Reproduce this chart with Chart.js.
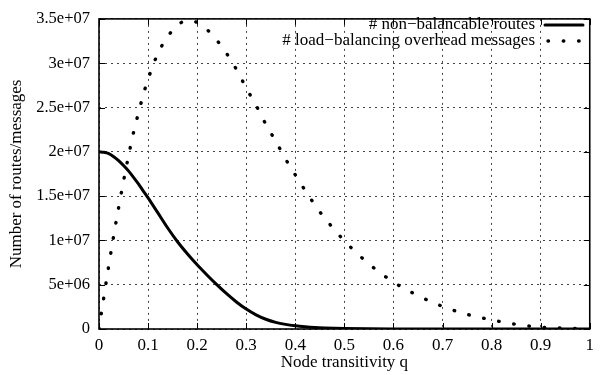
<!DOCTYPE html>
<html>
<head>
<meta charset="utf-8">
<script src="https://cdn.jsdelivr.net/npm/chart.js@4.4.0/dist/chart.umd.min.js"></script>
<style>
  body { margin: 0; background: #fff; }
  #wrap { width: 600px; height: 375px; position: relative; }
</style>
</head>
<body>
<div id="wrap"><canvas id="myChart"></canvas></div>
<script>
// node transitivity q (x values)
var qValues = [0, 0.01, 0.02, 0.03, 0.04, 0.05, 0.06, 0.07, 0.08, 0.09, 0.10,
  0.12, 0.14, 0.16, 0.18, 0.20, 0.22, 0.24, 0.26, 0.28, 0.30, 0.32, 0.34, 0.36,
  0.38, 0.40, 0.42, 0.44, 0.46, 0.48, 0.50, 0.55, 0.60, 0.65, 0.70, 0.75, 0.80,
  0.85, 0.90, 0.95, 1.00];

// # non-balancable routes (millions)
var routesM = [20.0, 19.95, 19.8, 19.45, 19.0, 18.45, 17.85, 17.15, 16.4, 15.6, 14.8,
  13.1, 11.4, 9.85, 8.5, 7.25, 6.1, 5.0, 3.98, 3.05, 2.25, 1.6, 1.1, 0.75,
  0.52, 0.36, 0.25, 0.17, 0.12, 0.085, 0.06, 0.025, 0.01, 0.004, 0, 0, 0,
  0, 0, 0, 0];

// # load-balancing overhead messages (millions)
var overheadM = [0, 3.65, 7.2, 10.55, 13.7, 16.7, 19.5, 22.1, 24.3, 26.4, 28.2,
  31.1, 33.0, 34.3, 34.8, 34.6, 33.8, 32.6, 31.1, 29.3, 27.2, 25.25, 23.1, 21.2,
  19.2, 17.4, 15.65, 14.0, 12.5, 11.2, 9.95, 7.35, 5.3, 3.76, 2.55, 1.65, 1.03,
  0.52, 0.21, 0.09, 0.03];

var seriesLabels = ['# non\u2212balancable routes', '# load\u2212balancing overhead messages'];
var xTicks = [0, 0.1, 0.2, 0.3, 0.4, 0.5, 0.6, 0.7, 0.8, 0.9, 1];
var yTicks = [0, 5e6, 1e7, 1.5e7, 2e7, 2.5e7, 3e7, 3.5e7];

var FONT = '"Liberation Serif", "Times New Roman", serif';

function toPoints(arr) {
  return qValues.map(function (q, i) { return { x: q, y: arr[i] * 1e6 }; });
}

function fmtExp(v) {
  if (v === 0) return '0';
  return v.toExponential().replace(/e\+(\d)$/, 'e+0$1');
}

// box, inward ticks on all sides, and the gnuplot-like key
var frame = {
  id: 'frame',
  afterDatasetsDraw: function (chart) {
    var c = chart.ctx, a = chart.chartArea;
    var xs = chart.scales.x, ys = chart.scales.y;
    c.save();
    c.strokeStyle = '#000';
    c.lineWidth = 1;
    c.beginPath();
    xTicks.forEach(function (t) {
      var px = Math.round(xs.getPixelForValue(t)) + 0.5;
      c.moveTo(px, a.bottom); c.lineTo(px, a.bottom - 6);
      c.moveTo(px, a.top); c.lineTo(px, a.top + 6);
    });
    yTicks.forEach(function (t) {
      var py = Math.round(ys.getPixelForValue(t)) + 0.5;
      c.moveTo(a.left, py); c.lineTo(a.left + 6, py);
      c.moveTo(a.right, py); c.lineTo(a.right - 6, py);
    });
    c.stroke();
    c.lineWidth = 1.6;
    c.strokeRect(a.left, a.top, a.right - a.left, a.bottom - a.top);

    // key
    c.font = '17px ' + FONT;
    c.fillStyle = '#000';
    c.textAlign = 'right';
    c.textBaseline = 'alphabetic';
    chart.data.datasets.forEach(function (ds, i) {
      var y = 25 + i * 16;
      c.fillText(ds.label, 535, y + 4.3);
      c.beginPath();
      c.lineWidth = ds.borderWidth;
      c.lineCap = 'round';
      c.setLineDash(ds.borderDash || []);
      c.moveTo(i === 0 ? 545 : 548, y);
      c.lineTo(583, y);
      c.stroke();
      c.setLineDash([]);
    });
    c.restore();
  }
};

const ctx = document.getElementById('myChart');

var chart = new Chart(ctx, {
  type: 'line',
  data: {
    datasets: [
      {
        label: seriesLabels[0],
        data: toPoints(routesM),
        borderColor: '#000',
        borderWidth: 3,
        pointRadius: 0,
        cubicInterpolationMode: 'monotone',
        fill: false
      },
      {
        label: seriesLabels[1],
        data: toPoints(overheadM),
        borderColor: '#000',
        borderWidth: 3.4,
        borderDash: [0.5, 14.8],
        borderCapStyle: 'round',
        pointRadius: 0,
        cubicInterpolationMode: 'monotone',
        fill: false
      }
    ]
  },
  options: {
    responsive: true,
    maintainAspectRatio: false,
    animation: false,
    layout: { padding: { top: 13, right: 3, left: 0, bottom: 0 } },
    plugins: {
      legend: { display: false },
      tooltip: { enabled: false }
    },
    scales: {
      x: {
        type: 'linear',
        min: 0,
        max: 1,
        afterBuildTicks: function (s) { s.ticks = xTicks.map(function (v) { return { value: v }; }); },
        afterFit: function (s) { s.height = 46; },
        grid: { color: '#444', lineWidth: 1, drawTicks: false },
        border: { display: false, dash: [2, 4] },
        ticks: {
          color: '#000',
          padding: 6,
          maxRotation: 0,
          font: { family: FONT, size: 17 },
          callback: function (v) { return String(Number(v.toFixed(1))); }
        },
        title: {
          display: true,
          text: 'Node transitivity q',
          color: '#000',
          font: { family: FONT, size: 17 },
          padding: { top: 0, bottom: 2.2 }
        }
      },
      y: {
        min: 0,
        max: 3.5e7,
        afterBuildTicks: function (s) { s.ticks = yTicks.map(function (v) { return { value: v }; }); },
        afterFit: function (s) { s.width = 99; },
        grid: { color: '#444', lineWidth: 1, drawTicks: false },
        border: { display: false, dash: [2, 4] },
        ticks: {
          color: '#000',
          padding: 9,
          font: { family: FONT, size: 16.5 },
          callback: function (v) { return fmtExp(v); }
        },
        title: {
          display: true,
          text: 'Number of routes/messages',
          color: '#000',
          font: { family: FONT, size: 17 },
          padding: { top: 6.8, bottom: 0 }
        }
      }
    }
  },
  plugins: [frame]
});
</script>
</body>
</html>
